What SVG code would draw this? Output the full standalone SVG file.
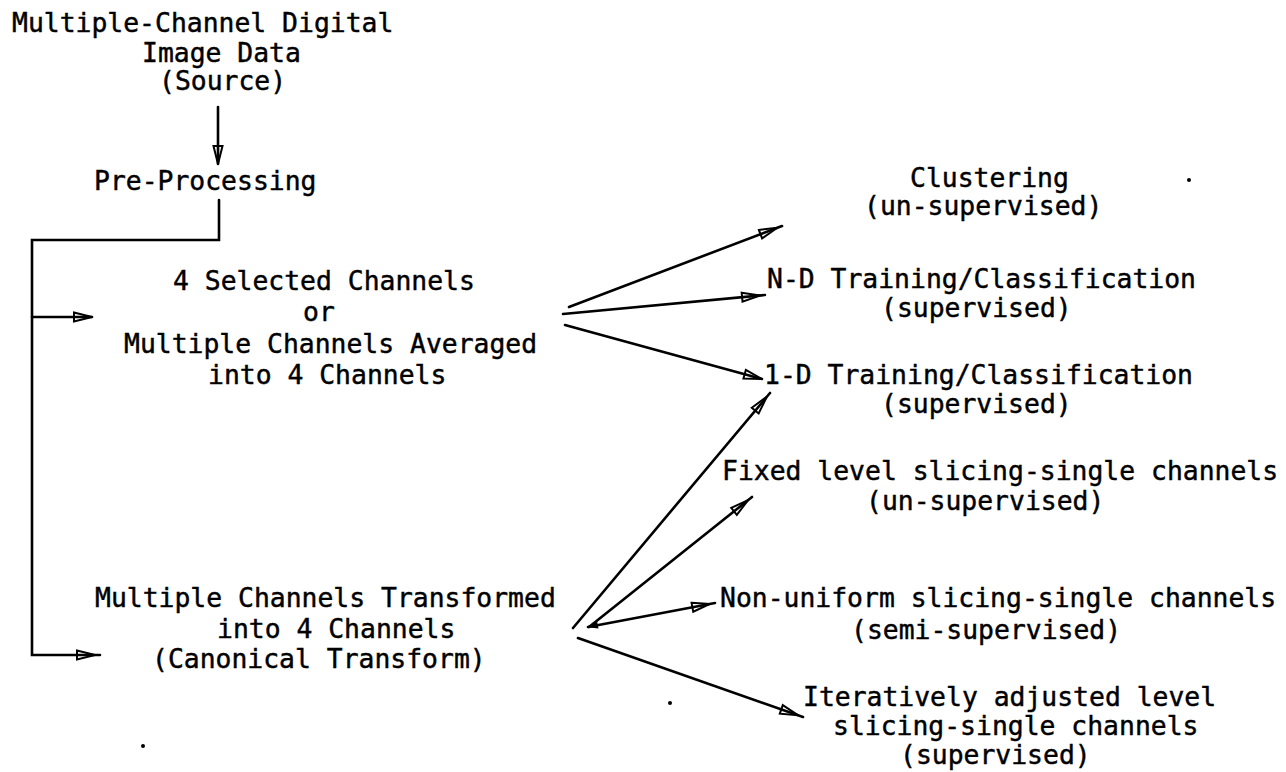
<svg xmlns="http://www.w3.org/2000/svg" width="1286" height="772" viewBox="0 0 1286 772">
  <style>
    .t { font-family: "DejaVu Sans Mono", "Liberation Mono", monospace; font-size: 26.4px; fill: #000; stroke: #000; stroke-width: 0.45; }
    .c { fill: none; stroke: #000; stroke-width: 2.6; stroke-linecap: round; stroke-linejoin: miter; }
    .dot { fill: #000; }
  </style>
  <defs>
    <marker id="ah" markerUnits="userSpaceOnUse" markerWidth="40" markerHeight="16" refX="24" refY="5" orient="auto" overflow="visible">
      <path d="M1,0.5 L19,5 L1,9.5 Z" fill="none" stroke="#000" stroke-width="2"/>
    </marker>
    <marker id="ahTip" markerUnits="userSpaceOnUse" markerWidth="40" markerHeight="16" refX="19" refY="5" orient="auto" overflow="visible">
      <path d="M1,0.5 L19,5 L1,9.5 Z" fill="none" stroke="#000" stroke-width="2"/>
    </marker>
    <marker id="ahBack" markerUnits="userSpaceOnUse" markerWidth="20" markerHeight="12" refX="1" refY="4" orient="auto" overflow="visible">
      <path d="M0,4 L11,0.5 L11,7.5 Z" fill="#000"/>
    </marker>
  </defs>

  <!-- source -->
  <g id="source" class="t">
    <text x="12" y="32">Multiple-Channel Digital</text>
    <text x="142" y="62">Image Data</text>
    <text x="159" y="90">(Source)</text>
  </g>

  <!-- pre-processing -->
  <g id="preprocessing" class="t">
    <text x="94" y="190">Pre-Processing</text>
  </g>

  <!-- band selection / averaging -->
  <g id="selected-channels" class="t">
    <text x="173" y="290">4 Selected Channels</text>
    <text x="303" y="321">or</text>
    <text x="124" y="353">Multiple Channels Averaged</text>
    <text x="208" y="384">into 4 Channels</text>
  </g>

  <!-- canonical transform -->
  <g id="transformed-channels" class="t">
    <text x="95" y="607">Multiple Channels Transformed</text>
    <text x="217" y="638">into 4 Channels</text>
    <text x="152" y="668">(Canonical Transform)</text>
  </g>

  <!-- classification methods -->
  <g id="clustering" class="t">
    <text x="910" y="187">Clustering</text>
    <text x="864" y="215">(un-supervised)</text>
  </g>
  <g id="nd-training" class="t">
    <text x="767" y="288">N-D Training/Classification</text>
    <text x="881" y="317">(supervised)</text>
  </g>
  <g id="od-training" class="t">
    <text x="764" y="384">1-D Training/Classification</text>
    <text x="881" y="413">(supervised)</text>
  </g>
  <g id="fixed-slicing" class="t">
    <text x="722" y="480">Fixed level slicing-single channels</text>
    <text x="866" y="510">(un-supervised)</text>
  </g>
  <g id="nonuniform-slicing" class="t">
    <text x="720" y="607">Non-uniform slicing-single channels</text>
    <text x="851" y="639">(semi-supervised)</text>
  </g>
  <g id="iterative-slicing" class="t">
    <text x="803" y="706">Iteratively adjusted level</text>
    <text x="833" y="735">slicing-single channels</text>
    <text x="900" y="764">(supervised)</text>
  </g>

  <!-- connectors -->
  <g id="connectors">
    <line class="c" x1="218" y1="107" x2="218" y2="164" marker-end="url(#ahTip)"/>
    <polyline class="c" points="219,200 219,240 32,240 32,655 100,655" marker-end="url(#ah)"/>
    <line class="c" x1="32" y1="317" x2="92" y2="317" marker-end="url(#ahTip)"/>

    <line class="c" x1="569" y1="307" x2="782" y2="226" marker-end="url(#ah)"/>
    <line class="c" x1="563" y1="314" x2="765" y2="295" marker-end="url(#ah)"/>
    <line class="c" x1="565" y1="325" x2="762" y2="379" marker-end="url(#ahTip)"/>

    <line class="c" x1="573" y1="628" x2="770" y2="393" marker-end="url(#ah)"/>
    <line class="c" x1="589" y1="627" x2="752" y2="497" marker-end="url(#ah)"/>
    <line class="c" x1="588" y1="627" x2="715" y2="603" marker-end="url(#ah)" marker-start="url(#ahBack)"/>
    <line class="c" x1="578" y1="638" x2="803" y2="717" marker-end="url(#ah)"/>
  </g>

  <!-- stray marks -->
  <circle class="dot" cx="1189" cy="180" r="2"/>
  <circle class="dot" cx="670" cy="703" r="2"/>
  <circle class="dot" cx="143" cy="746" r="2"/>
</svg>
